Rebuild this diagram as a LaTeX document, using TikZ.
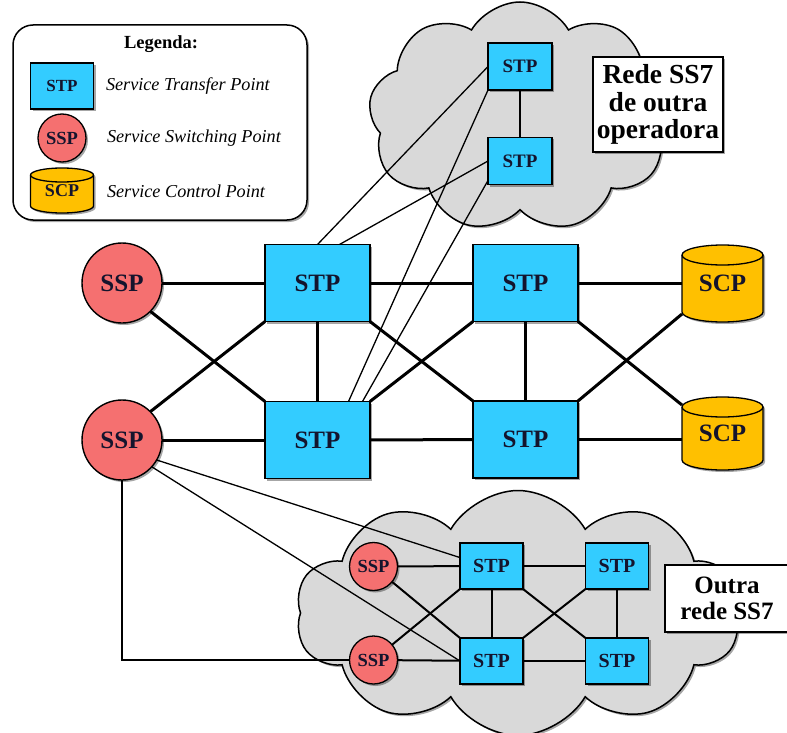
\documentclass[tikz,border=0pt]{standalone}
\usepackage{fontspec}
\setmainfont{Liberation Serif}
\usetikzlibrary{shapes.symbols,shadows,calc}
\pgfdeclarelayer{bg}
\pgfdeclarelayer{lines}
\pgfdeclarelayer{nodebg}
\pgfsetlayers{bg,lines,nodebg,main}
\definecolor{stpc}{RGB}{51,204,255}
\definecolor{sspc}{RGB}{245,112,112}
\definecolor{scpc}{RGB}{255,192,0}
\definecolor{cloudc}{RGB}{217,217,217}
\definecolor{txtc}{RGB}{20,20,45}
\tikzset{
  shad/.style={drop shadow={shadow xshift=2pt,shadow yshift=-2pt,fill=black,opacity=0.35}},
  base/.style={inner sep=0pt,outer sep=0pt,text=txtc},
  stpbig/.style={base,draw,line width=1.4pt,fill=stpc,shad,minimum width=105pt,minimum height=77pt,font=\bfseries\fontsize{25}{25}\selectfont},
  stpsmall/.style={base,draw,line width=1.3pt,fill=stpc,shad,minimum width=64pt,minimum height=47pt,font=\bfseries\fontsize{19}{19}\selectfont},
  sspbig/.style={base,circle,draw,line width=1.4pt,fill=sspc,shad,minimum size=80pt,font=\bfseries\fontsize{25}{25}\selectfont},
  sspsmall/.style={base,circle,draw,line width=1.3pt,fill=sspc,shad,minimum size=48pt,font=\bfseries\fontsize{18.5}{18.5}\selectfont},
  scpbig/.style={base,minimum width=81pt,font=\bfseries\fontsize{25}{25}\selectfont},
  scpsmall/.style={base,minimum width=63pt,minimum height=45pt,font=\bfseries\fontsize{18}{18}\selectfont},
  legtext/.style={base,anchor=west,text=black,font=\itshape\fontsize{18.2}{18.2}\selectfont},
  cloudshape/.style={cloud,cloud puff arc=120,cloud ignores aspect,draw,line width=1.5pt,fill=cloudc,shad,inner sep=0pt},
  labelbox/.style={base,draw,line width=1.3pt,fill=white,shad,align=center,text=black},
  thick3/.style={line width=3pt},
  thin1/.style={line width=1.3pt},
  mid2/.style={line width=2pt},
}
\newcommand\scpcyl[3]{%
  \path[fill=black,opacity=0.35] ([xshift=2pt,yshift=-#3pt-2pt]#1.north west) -- ([xshift=2pt,yshift=#3pt-2pt]#1.south west) arc[start angle=180,end angle=360,x radius=#2pt,y radius=#3pt] -- ([xshift=2pt,yshift=-#3pt-2pt]#1.north east) arc[start angle=0,end angle=180,x radius=#2pt,y radius=#3pt] -- cycle;
  \path[draw,line width=1.3pt,fill=scpc] ([yshift=-#3pt]#1.north west) -- ([yshift=#3pt]#1.south west) arc[start angle=180,end angle=360,x radius=#2pt,y radius=#3pt] -- ([yshift=-#3pt]#1.north east) arc[start angle=0,end angle=180,x radius=#2pt,y radius=#3pt] -- cycle;
  \draw[line width=1.3pt] ([yshift=-#3pt]#1.north west) arc[start angle=180,end angle=360,x radius=#2pt,y radius=#3pt];
}
\begin{document}
\begin{tikzpicture}[x=1pt,y=-1pt]
\useasboundingbox (0,0) rectangle (787,733);

% background, clouds, legend frame
\begin{pgfonlayer}{bg}
\fill[white] (0,0) rectangle (787,733);
\node[cloudshape,cloud puffs=9,minimum width=303pt,minimum height=230pt] (ctop) at (520,117) {};
\node[cloudshape,cloud puffs=10,minimum width=445pt,minimum height=245pt] (cbot) at (518,613) {};
\node[base,draw,line width=1.5pt,rounded corners=20pt,fill=white,shad,minimum width=294pt,minimum height=195pt] (leg) at (160,122.5) {};
\end{pgfonlayer}

% legend
\node[base,text=black,font=\bfseries\fontsize{18.5}{18.5}\selectfont] (legt) at (161,44) {Legenda:};
\node[stpsmall,minimum width=63pt,minimum height=46pt,font=\bfseries\fontsize{17}{17}\selectfont] (lstp) at (62,86) {STP};
\node[sspsmall] (lssp) at (62,138) {SSP};
\node[scpsmall] (lscp) at (62,190.5) {\raisebox{-3pt}{SCP}};
\node[legtext] (lt1) at (106,86) {Service Transfer Point};
\node[legtext] (lt2) at (107,138) {Service Switching Point};
\node[legtext] (lt3) at (107,191) {Service Control Point};

% main nodes
\node[sspbig] (ssp1) at (122,283) {SSP};
\node[sspbig] (ssp2) at (122,440) {SSP};
\node[stpbig] (stp1) at (317.5,283) {STP};
\node[stpbig] (stp2) at (317.5,440) {STP};
\node[stpbig] (stp3) at (525.5,283) {STP};
\node[stpbig] (stp4) at (525.5,439.5) {STP};
\node[scpbig,minimum height=77pt] (scp1) at (722.5,283.5) {\raisebox{-6pt}{SCP}};
\node[scpbig,minimum height=73pt] (scp2) at (722.5,433.5) {\raisebox{-5pt}{SCP}};

% top cloud nodes
\node[stpsmall] (tstpa) at (520,66.5) {STP};
\node[stpsmall] (tstpb) at (520,161) {STP};
\node[labelbox,minimum width=130pt,minimum height=95pt,font=\bfseries\fontsize{27.5}{27.5}\selectfont] (tlab) at (658,104.5) {Rede SS7\\de outra\\operadora};

% bottom cloud nodes
\node[sspsmall] (bssp1) at (373.5,566.5) {SSP};
\node[sspsmall] (bssp2) at (373.5,660) {SSP};
\node[stpsmall,minimum width=63pt,minimum height=46pt,font=\bfseries\fontsize{20}{20}\selectfont] (bstp1) at (491.5,566) {STP};
\node[stpsmall,minimum width=63pt,minimum height=46pt,font=\bfseries\fontsize{20}{20}\selectfont] (bstp2) at (491.5,661) {STP};
\node[stpsmall,minimum width=63pt,minimum height=46pt,font=\bfseries\fontsize{20}{20}\selectfont] (bstp3) at (617,566) {STP};
\node[stpsmall,minimum width=63pt,minimum height=46pt,font=\bfseries\fontsize{20}{20}\selectfont] (bstp4) at (617,661) {STP};
\node[labelbox,minimum width=124pt,minimum height=67pt,font=\bfseries\fontsize{25}{26}\selectfont] (blab) at (727,598.5) {Outra\\rede SS7};

% cylinders
\begin{pgfonlayer}{nodebg}
\scpcyl{lscp}{31.5}{7}
\scpcyl{scp1}{40.5}{10}
\scpcyl{scp2}{40.5}{10}
\end{pgfonlayer}

% connectors
\begin{pgfonlayer}{lines}
\draw[thick3] (ssp1) -- (stp1);
\draw[thick3] (ssp2) -- (stp2);
\draw[thick3] (ssp1.-45) -- (stp2.north west);
\draw[thick3] (ssp2.45) -- (stp1.south west);
\draw[thick3] (stp1) -- (stp2);
\draw[thick3] (stp3) -- (stp4);
\draw[thick3] (stp1) -- (stp3);
\draw[thick3] (stp2) -- (stp4);
\draw[thick3] (stp1.south east) -- (stp4.north west);
\draw[thick3] (stp2.north east) -- (stp3.south west);
\draw[thick3] (stp3.east) -- (stp3.east -| scp1.west);
\draw[thick3] (stp4.east) -- (stp4.east -| scp2.west);
\draw[thick3] (stp3.south east) -- ([yshift=-8pt]scp2.north west);
\draw[thick3] (stp4.north east) -- ([yshift=8pt]scp1.south west);

\draw[mid2] (tstpa) -- (tstpb);
\draw[thin1] (tstpa.west) -- (stp1.north);
\draw[thin1] (tstpa.south west) -- ([xshift=31pt]stp2.north);
\draw[thin1] (tstpb.west) -- ([xshift=22pt]stp1.north);
\draw[thin1] ([yshift=4pt]tstpb.south west) -- ([xshift=45pt]stp2.north);

\draw[thin1] (ssp2.-30) -- (bstp1.165);
\draw[thin1] (ssp2.-42) -- (bstp2.west);
\draw[line width=1.5pt] (ssp2.south) |- (bssp2.west);

\draw[mid2] (bssp1) -- (bstp1);
\draw[mid2] (bssp2) -- (bstp2);
\draw[mid2] (bssp1) -- (bstp2.north west);
\draw[mid2] (bssp2) -- (bstp1.south west);
\draw[mid2] (bstp1) -- (bstp3);
\draw[mid2] (bstp2) -- (bstp4);
\draw[mid2] (bstp1) -- (bstp2);
\draw[mid2] (bstp3) -- (bstp4);
\draw[mid2] (bstp1.south east) -- (bstp4.north west);
\draw[mid2] (bstp2.north east) -- (bstp3.south west);
\end{pgfonlayer}
\end{tikzpicture}
\end{document}
